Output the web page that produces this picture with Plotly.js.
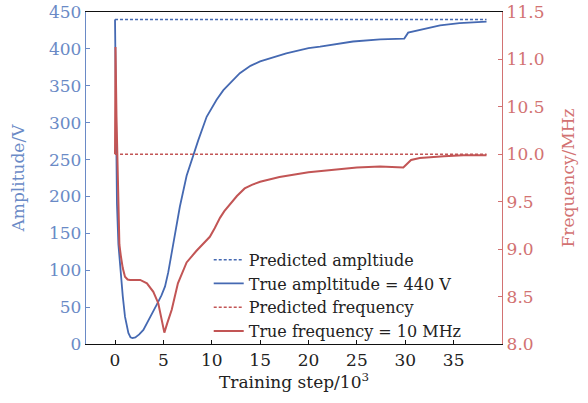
<!DOCTYPE html>
<html>
<head>
<meta charset="utf-8">
<script src="https://cdn.plot.ly/plotly-3.0.1.min.js"></script>
<style>html,body{margin:0;padding:0;background:#fff}#plot{width:588px;height:403px}</style>
</head>
<body>
<div id="plot"></div>
<script>
// Amplitude (left axis, V) vs training step (x10^3)
const ampStep = [0, 0.08, 0.2, 0.35, 0.55, 0.8, 1.03, 1.2, 1.38, 1.6, 1.8, 2.1, 2.5, 2.93, 3.6, 4.3, 4.8, 5.17, 5.5, 5.85, 6.2, 6.7, 7.4, 8.1, 8.6, 9.47, 10.0, 10.5, 11.2, 11.9, 12.9, 14.0, 15.0, 17.7, 20.0, 21.2, 24.6, 27.4, 29.9, 30.3, 31.5, 33.6, 35.6, 38.4];
const ampVal  = [440, 300, 190, 135, 100, 65, 37, 24, 15, 9, 8, 9, 13, 19, 35, 53, 66, 78, 97, 122, 150, 186, 228, 258, 276, 308, 320, 331, 344, 353, 367, 377, 383, 394, 401, 403, 410, 413, 414, 422, 426, 432, 435, 437];
// Frequency (right axis, MHz)
const freqStep = [0, 0.05, 0.15, 0.3, 0.45, 0.6, 0.8, 1.03, 1.3, 1.55, 2.6, 3.3, 3.96, 4.47, 4.82, 5.1, 5.4, 5.86, 6.5, 7.0, 7.4, 8.4, 9.2, 9.8, 10.3, 10.85, 11.3, 11.9, 12.6, 13.4, 14.2, 15.0, 17.0, 20.0, 22.9, 25.0, 27.4, 29.8, 30.2, 30.6, 31.5, 32.5, 34.0, 36.0, 38.4];
const freqVal  = [10.0, 11.13, 10.4, 9.5, 9.05, 8.93, 8.8, 8.71, 8.68, 8.675, 8.675, 8.64, 8.55, 8.43, 8.27, 8.12, 8.22, 8.36, 8.64, 8.77, 8.86, 8.98, 9.06, 9.13, 9.22, 9.33, 9.40, 9.47, 9.56, 9.64, 9.68, 9.71, 9.76, 9.81, 9.84, 9.86, 9.87, 9.86, 9.90, 9.94, 9.96, 9.97, 9.98, 9.99, 9.99];
// Predicted (targets)
const predStep = [0, 38.4];
const predAmp = [440, 440];
const predFreq = [10.0, 10.0];
const xTicks = [0, 5, 10, 15, 20, 25, 30, 35];
const yTicks = [0, 50, 100, 150, 200, 250, 300, 350, 400, 450];
const y2Ticks = [8.0, 8.5, 9.0, 9.5, 10.0, 10.5, 11.0, 11.5];

const BLUE = '#4569b2', RED = '#c25555';
const BLUE_T = '#6a8ac6', RED_T = '#d27272';
const FONT = 'DejaVu Serif, serif';
const FS = 17;

const traces = [
  {x: predStep, y: predAmp, name: 'Predicted ampltiude', mode: 'lines',
   line: {color: BLUE, width: 1.5, dash: '3px,2px'}},
  {x: ampStep, y: ampVal, name: 'True ampltitude = 440 V', mode: 'lines',
   line: {color: BLUE, width: 1.8}},
  {x: predStep, y: predFreq, name: 'Predicted frequency', mode: 'lines', yaxis: 'y2',
   line: {color: RED, width: 1.5, dash: '3px,2px'}},
  {x: freqStep, y: freqVal, name: 'True frequency = 10 MHz', mode: 'lines', yaxis: 'y2',
   line: {color: RED, width: 2}}
];

const layout = {
  width: 588, height: 403,
  margin: {l: 86, r: 86, t: 12, b: 59},
  paper_bgcolor: '#fff', plot_bgcolor: '#fff',
  showlegend: true,
  font: {family: FONT, size: FS, color: '#222'},
  xaxis: {
    range: [-3, 40], tickvals: xTicks, ticktext: xTicks.map(String),
    showgrid: false, zeroline: false, showline: true, mirror: true,
    linecolor: '#111', linewidth: 1.2, ticks: 'inside', ticklen: 4, tickcolor: '#111',
    tickfont: {family: FONT, size: FS, color: '#222'},
    title: {text: 'Training step/10<sup>3</sup>', font: {family: FONT, size: FS, color: '#222'}, standoff: 7}
  },
  yaxis: {
    range: [0, 450], tickvals: yTicks, ticktext: yTicks.map(String),
    showgrid: false, zeroline: false, showline: true,
    linecolor: BLUE_T, linewidth: 1.2, ticks: 'inside', ticklen: 4, tickcolor: BLUE_T,
    tickfont: {family: FONT, size: FS, color: BLUE_T},
    title: {text: 'Amplitude/V', font: {family: FONT, size: FS, color: BLUE_T}, standoff: 20}
  },
  yaxis2: {
    range: [8.0, 11.5], tickvals: y2Ticks, ticktext: y2Ticks.map(v => v.toFixed(1)),
    overlaying: 'y', side: 'right',
    showgrid: false, zeroline: false, showline: true,
    linecolor: RED_T, linewidth: 1.2, ticks: 'inside', ticklen: 4, tickcolor: RED_T,
    tickfont: {family: FONT, size: FS, color: RED_T},
    title: {text: 'Frequency/MHz', font: {family: FONT, size: FS, color: RED_T}, standoff: 18}
  },
  legend: {
    x: 0.295, y: 0.305, xanchor: 'left', yanchor: 'top',
    bgcolor: 'rgba(0,0,0,0)', borderwidth: 0,
    font: {family: FONT, size: 16, color: '#222'},
    tracegroupgap: 0
  }
};

Plotly.newPlot('plot', traces, layout, {displayModeBar: false, staticPlot: true});
</script>
</body>
</html>
